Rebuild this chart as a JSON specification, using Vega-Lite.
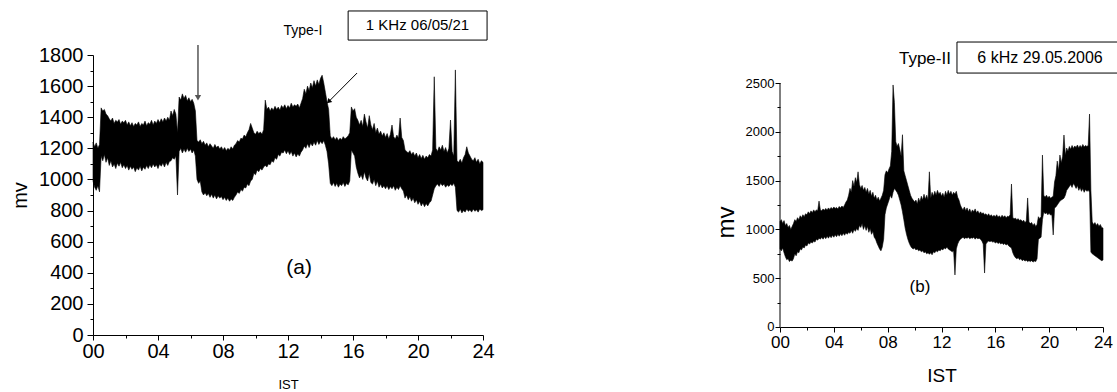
{
"$schema": "https://vega.github.io/schema/vega-lite/v6.json",
"padding": {"left": 10, "top": 10, "right": 0, "bottom": 0},
"spacing": 219,
"config": {
  "view": {"stroke": null},
  "font": "Liberation Sans",
  "text": {"font": "Liberation Sans", "color": "black"},
  "axis": {"domainColor": "black", "tickColor": "black", "labelColor": "black", "titleColor": "black", "grid": false, "labelFont": "Liberation Sans", "titleFont": "Liberation Sans", "titleFontWeight": "normal", "labelFlush": false, "labelOverlap": false, "labelBound": false, "domainWidth": 1, "tickWidth": 1}
},
"datasets": {
"one": [{}],
"a": [
{"h":0.0,"hi":1240,"lo":990},{"h":0.1,"hi":1210,"lo":950},{"h":0.2,"hi":1235,"lo":930},{"h":0.3,"hi":1200,"lo":960},{"h":0.4,"hi":1225,"lo":920},
{"h":0.5,"hi":1460,"lo":1150},{"h":0.6,"hi":1440,"lo":1120},{"h":0.7,"hi":1450,"lo":1160},{"h":0.8,"hi":1420,"lo":1110},{"h":0.9,"hi":1410,"lo":1140},
{"h":1.0,"hi":1390,"lo":1090},{"h":1.1,"hi":1375,"lo":1120},{"h":1.2,"hi":1395,"lo":1080},{"h":1.3,"hi":1360,"lo":1100},{"h":1.4,"hi":1380,"lo":1070},
{"h":1.5,"hi":1370,"lo":1105},{"h":1.6,"hi":1385,"lo":1085},{"h":1.7,"hi":1355,"lo":1110},{"h":1.8,"hi":1375,"lo":1075},{"h":1.9,"hi":1365,"lo":1095},
{"h":2.0,"hi":1380,"lo":1070},{"h":2.1,"hi":1350,"lo":1090},{"h":2.2,"hi":1370,"lo":1060},{"h":2.3,"hi":1345,"lo":1085},{"h":2.4,"hi":1365,"lo":1065},
{"h":2.5,"hi":1340,"lo":1080},{"h":2.6,"hi":1360,"lo":1050},{"h":2.7,"hi":1350,"lo":1075},{"h":2.8,"hi":1370,"lo":1060},{"h":2.9,"hi":1340,"lo":1085},
{"h":3.0,"hi":1360,"lo":1055},{"h":3.1,"hi":1350,"lo":1080},{"h":3.2,"hi":1375,"lo":1065},{"h":3.3,"hi":1345,"lo":1090},{"h":3.4,"hi":1365,"lo":1070},
{"h":3.5,"hi":1355,"lo":1095},{"h":3.6,"hi":1380,"lo":1075},{"h":3.7,"hi":1350,"lo":1100},{"h":3.8,"hi":1375,"lo":1080},{"h":3.9,"hi":1360,"lo":1095},
{"h":4.0,"hi":1385,"lo":1070},{"h":4.1,"hi":1365,"lo":1100},{"h":4.2,"hi":1390,"lo":1085},{"h":4.3,"hi":1370,"lo":1105},{"h":4.4,"hi":1395,"lo":1080},
{"h":4.5,"hi":1375,"lo":1110},{"h":4.6,"hi":1400,"lo":1090},{"h":4.7,"hi":1380,"lo":1115},{"h":4.8,"hi":1440,"lo":1120},{"h":4.9,"hi":1410,"lo":1140},
{"h":5.0,"hi":1450,"lo":1130},{"h":5.1,"hi":1420,"lo":1150},{"h":5.2,"hi":1300,"lo":900},{"h":5.3,"hi":1530,"lo":1180},{"h":5.4,"hi":1510,"lo":1200},
{"h":5.5,"hi":1550,"lo":1170},{"h":5.6,"hi":1520,"lo":1195},{"h":5.7,"hi":1540,"lo":1175},{"h":5.8,"hi":1505,"lo":1200},{"h":5.9,"hi":1525,"lo":1180},
{"h":6.0,"hi":1500,"lo":1195},{"h":6.1,"hi":1515,"lo":1170},{"h":6.2,"hi":1490,"lo":1190},{"h":6.3,"hi":1440,"lo":1150},{"h":6.4,"hi":1250,"lo":1000},
{"h":6.5,"hi":1240,"lo":975},{"h":6.6,"hi":1255,"lo":990},{"h":6.7,"hi":1230,"lo":920},{"h":6.8,"hi":1245,"lo":900},{"h":6.9,"hi":1220,"lo":915},
{"h":7.0,"hi":1235,"lo":895},{"h":7.1,"hi":1210,"lo":910},{"h":7.2,"hi":1230,"lo":885},{"h":7.3,"hi":1215,"lo":905},{"h":7.4,"hi":1200,"lo":880},
{"h":7.5,"hi":1225,"lo":900},{"h":7.6,"hi":1205,"lo":875},{"h":7.7,"hi":1215,"lo":895},{"h":7.8,"hi":1195,"lo":880},{"h":7.9,"hi":1210,"lo":890},
{"h":8.0,"hi":1190,"lo":870},{"h":8.1,"hi":1205,"lo":885},{"h":8.2,"hi":1185,"lo":865},{"h":8.3,"hi":1200,"lo":880},{"h":8.4,"hi":1190,"lo":860},
{"h":8.5,"hi":1210,"lo":875},{"h":8.6,"hi":1195,"lo":865},{"h":8.7,"hi":1220,"lo":885},{"h":8.8,"hi":1230,"lo":900},{"h":8.9,"hi":1250,"lo":920},
{"h":9.0,"hi":1240,"lo":910},{"h":9.1,"hi":1265,"lo":935},{"h":9.2,"hi":1260,"lo":925},{"h":9.3,"hi":1285,"lo":950},{"h":9.4,"hi":1275,"lo":945},
{"h":9.5,"hi":1300,"lo":970},{"h":9.6,"hi":1320,"lo":960},{"h":9.7,"hi":1360,"lo":990},{"h":9.8,"hi":1330,"lo":1000},{"h":9.9,"hi":1300,"lo":1040},
{"h":10.0,"hi":1290,"lo":1030},{"h":10.1,"hi":1310,"lo":1060},{"h":10.2,"hi":1295,"lo":1050},{"h":10.3,"hi":1305,"lo":1070},{"h":10.4,"hi":1290,"lo":1060},
{"h":10.5,"hi":1320,"lo":1080},{"h":10.6,"hi":1510,"lo":1090},{"h":10.7,"hi":1450,"lo":1080},{"h":10.8,"hi":1465,"lo":1100},{"h":10.9,"hi":1440,"lo":1095},
{"h":11.0,"hi":1460,"lo":1120},{"h":11.1,"hi":1445,"lo":1110},{"h":11.2,"hi":1470,"lo":1140},{"h":11.3,"hi":1450,"lo":1130},{"h":11.4,"hi":1465,"lo":1160},
{"h":11.5,"hi":1445,"lo":1150},{"h":11.6,"hi":1475,"lo":1175},{"h":11.7,"hi":1460,"lo":1170},{"h":11.8,"hi":1480,"lo":1190},{"h":11.9,"hi":1455,"lo":1165},
{"h":12.0,"hi":1475,"lo":1185},{"h":12.1,"hi":1460,"lo":1160},{"h":12.2,"hi":1490,"lo":1180},{"h":12.3,"hi":1465,"lo":1150},{"h":12.4,"hi":1480,"lo":1170},
{"h":12.5,"hi":1470,"lo":1145},{"h":12.6,"hi":1485,"lo":1165},{"h":12.7,"hi":1460,"lo":1150},{"h":12.8,"hi":1490,"lo":1175},{"h":12.9,"hi":1520,"lo":1190},
{"h":13.0,"hi":1580,"lo":1215},{"h":13.1,"hi":1550,"lo":1200},{"h":13.2,"hi":1600,"lo":1230},{"h":13.3,"hi":1570,"lo":1205},{"h":13.4,"hi":1620,"lo":1235},
{"h":13.5,"hi":1590,"lo":1215},{"h":13.6,"hi":1635,"lo":1240},{"h":13.7,"hi":1600,"lo":1220},{"h":13.8,"hi":1640,"lo":1250},{"h":13.9,"hi":1610,"lo":1225},
{"h":14.0,"hi":1650,"lo":1245},{"h":14.1,"hi":1670,"lo":1230},{"h":14.2,"hi":1620,"lo":1250},{"h":14.3,"hi":1560,"lo":1220},{"h":14.4,"hi":1500,"lo":1180},
{"h":14.5,"hi":1450,"lo":1100},{"h":14.6,"hi":1280,"lo":975},{"h":14.7,"hi":1260,"lo":960},{"h":14.8,"hi":1275,"lo":980},{"h":14.9,"hi":1255,"lo":955},
{"h":15.0,"hi":1270,"lo":975},{"h":15.1,"hi":1250,"lo":950},{"h":15.2,"hi":1265,"lo":970},{"h":15.3,"hi":1255,"lo":960},{"h":15.4,"hi":1275,"lo":980},
{"h":15.5,"hi":1260,"lo":955},{"h":15.6,"hi":1270,"lo":975},{"h":15.7,"hi":1280,"lo":965},{"h":15.8,"hi":1300,"lo":990},{"h":15.9,"hi":1466,"lo":1190},
{"h":16.0,"hi":1440,"lo":1170},{"h":16.1,"hi":1455,"lo":1150},{"h":16.2,"hi":1400,"lo":1080},{"h":16.3,"hi":1380,"lo":1040},{"h":16.4,"hi":1350,"lo":1010},
{"h":16.5,"hi":1380,"lo":1030},{"h":16.6,"hi":1340,"lo":1000},{"h":16.7,"hi":1420,"lo":1050},{"h":16.8,"hi":1370,"lo":1010},{"h":16.9,"hi":1330,"lo":990},
{"h":17.0,"hi":1410,"lo":1040},{"h":17.1,"hi":1350,"lo":980},{"h":17.2,"hi":1320,"lo":970},{"h":17.3,"hi":1360,"lo":1000},{"h":17.4,"hi":1300,"lo":960},
{"h":17.5,"hi":1330,"lo":990},{"h":17.6,"hi":1290,"lo":950},{"h":17.7,"hi":1310,"lo":970},{"h":17.8,"hi":1280,"lo":945},{"h":17.9,"hi":1300,"lo":960},
{"h":18.0,"hi":1270,"lo":940},{"h":18.1,"hi":1295,"lo":960},{"h":18.2,"hi":1260,"lo":935},{"h":18.3,"hi":1290,"lo":955},{"h":18.4,"hi":1350,"lo":940},
{"h":18.5,"hi":1275,"lo":960},{"h":18.6,"hi":1260,"lo":930},{"h":18.7,"hi":1285,"lo":950},{"h":18.8,"hi":1265,"lo":935},{"h":18.9,"hi":1395,"lo":960},
{"h":19.0,"hi":1270,"lo":940},{"h":19.1,"hi":1250,"lo":925},{"h":19.2,"hi":1190,"lo":880},{"h":19.3,"hi":1180,"lo":900},{"h":19.4,"hi":1170,"lo":870},
{"h":19.5,"hi":1185,"lo":890},{"h":19.6,"hi":1160,"lo":860},{"h":19.7,"hi":1175,"lo":880},{"h":19.8,"hi":1150,"lo":850},{"h":19.9,"hi":1170,"lo":870},
{"h":20.0,"hi":1140,"lo":840},{"h":20.1,"hi":1160,"lo":860},{"h":20.2,"hi":1135,"lo":830},{"h":20.3,"hi":1155,"lo":850},{"h":20.4,"hi":1130,"lo":825},
{"h":20.5,"hi":1150,"lo":845},{"h":20.6,"hi":1140,"lo":830},{"h":20.7,"hi":1160,"lo":850},{"h":20.8,"hi":1150,"lo":860},{"h":20.9,"hi":1190,"lo":900},
{"h":21.0,"hi":1660,"lo":940},{"h":21.1,"hi":1200,"lo":960},{"h":21.2,"hi":1180,"lo":970},{"h":21.3,"hi":1210,"lo":955},{"h":21.4,"hi":1190,"lo":975},
{"h":21.5,"hi":1220,"lo":960},{"h":21.6,"hi":1180,"lo":970},{"h":21.7,"hi":1205,"lo":950},{"h":21.8,"hi":1170,"lo":965},{"h":21.9,"hi":1200,"lo":955},
{"h":22.0,"hi":1382,"lo":970},{"h":22.1,"hi":1180,"lo":960},{"h":22.2,"hi":1150,"lo":975},{"h":22.3,"hi":1704,"lo":950},{"h":22.4,"hi":1120,"lo":800},
{"h":22.5,"hi":1110,"lo":790},{"h":22.6,"hi":1130,"lo":810},{"h":22.7,"hi":1105,"lo":785},{"h":22.8,"hi":1140,"lo":800},{"h":22.9,"hi":1160,"lo":790},
{"h":23.0,"hi":1210,"lo":810},{"h":23.1,"hi":1170,"lo":795},{"h":23.2,"hi":1150,"lo":805},{"h":23.3,"hi":1130,"lo":790},{"h":23.4,"hi":1120,"lo":810},
{"h":23.5,"hi":1140,"lo":795},{"h":23.6,"hi":1110,"lo":805},{"h":23.7,"hi":1130,"lo":790},{"h":23.8,"hi":1100,"lo":810},{"h":23.9,"hi":1120,"lo":800},
{"h":24.0,"hi":1110,"lo":805}
],
"b": [
{"h":0.0,"hi":1080,"lo":800},{"h":0.1,"hi":1100,"lo":780},{"h":0.2,"hi":1060,"lo":810},{"h":0.3,"hi":1090,"lo":760},{"h":0.4,"hi":1040,"lo":720},
{"h":0.5,"hi":1060,"lo":690},{"h":0.6,"hi":1020,"lo":700},{"h":0.7,"hi":1040,"lo":670},{"h":0.8,"hi":1000,"lo":685},{"h":0.9,"hi":1030,"lo":675},
{"h":1.0,"hi":1060,"lo":700},{"h":1.1,"hi":1100,"lo":750},{"h":1.2,"hi":1080,"lo":730},{"h":1.3,"hi":1120,"lo":770},{"h":1.4,"hi":1100,"lo":760},
{"h":1.5,"hi":1140,"lo":800},{"h":1.6,"hi":1120,"lo":790},{"h":1.7,"hi":1150,"lo":820},{"h":1.8,"hi":1130,"lo":810},{"h":1.9,"hi":1160,"lo":840},
{"h":2.0,"hi":1150,"lo":830},{"h":2.1,"hi":1180,"lo":860},{"h":2.2,"hi":1160,"lo":850},{"h":2.3,"hi":1190,"lo":870},{"h":2.4,"hi":1170,"lo":860},
{"h":2.5,"hi":1200,"lo":880},{"h":2.6,"hi":1180,"lo":870},{"h":2.7,"hi":1200,"lo":900},{"h":2.8,"hi":1190,"lo":890},{"h":2.9,"hi":1290,"lo":910},
{"h":3.0,"hi":1200,"lo":900},{"h":3.1,"hi":1190,"lo":920},{"h":3.2,"hi":1210,"lo":900},{"h":3.3,"hi":1195,"lo":925},{"h":3.4,"hi":1215,"lo":905},
{"h":3.5,"hi":1200,"lo":930},{"h":3.6,"hi":1220,"lo":910},{"h":3.7,"hi":1205,"lo":935},{"h":3.8,"hi":1225,"lo":915},{"h":3.9,"hi":1210,"lo":940},
{"h":4.0,"hi":1230,"lo":920},{"h":4.1,"hi":1215,"lo":945},{"h":4.2,"hi":1225,"lo":925},{"h":4.3,"hi":1210,"lo":950},{"h":4.4,"hi":1235,"lo":930},
{"h":4.5,"hi":1220,"lo":955},{"h":4.6,"hi":1240,"lo":935},{"h":4.7,"hi":1225,"lo":960},{"h":4.8,"hi":1250,"lo":940},{"h":4.9,"hi":1280,"lo":965},
{"h":5.0,"hi":1300,"lo":950},{"h":5.1,"hi":1350,"lo":970},{"h":5.2,"hi":1420,"lo":960},{"h":5.3,"hi":1380,"lo":990},{"h":5.4,"hi":1500,"lo":960},
{"h":5.5,"hi":1440,"lo":1000},{"h":5.6,"hi":1530,"lo":980},{"h":5.7,"hi":1480,"lo":1010},{"h":5.8,"hi":1590,"lo":990},{"h":5.9,"hi":1460,"lo":1040},
{"h":6.0,"hi":1420,"lo":1020},{"h":6.1,"hi":1450,"lo":1060},{"h":6.2,"hi":1400,"lo":1000},{"h":6.3,"hi":1430,"lo":1040},{"h":6.4,"hi":1380,"lo":990},
{"h":6.5,"hi":1420,"lo":1030},{"h":6.6,"hi":1360,"lo":970},{"h":6.7,"hi":1400,"lo":1010},{"h":6.8,"hi":1340,"lo":950},{"h":6.9,"hi":1380,"lo":980},
{"h":7.0,"hi":1320,"lo":920},{"h":7.1,"hi":1350,"lo":900},{"h":7.2,"hi":1300,"lo":860},{"h":7.3,"hi":1330,"lo":830},{"h":7.4,"hi":1290,"lo":800},
{"h":7.5,"hi":1320,"lo":780},{"h":7.6,"hi":1350,"lo":820},{"h":7.7,"hi":1400,"lo":900},{"h":7.8,"hi":1560,"lo":1150},{"h":7.9,"hi":1600,"lo":1220},
{"h":8.0,"hi":1580,"lo":1260},{"h":8.1,"hi":1620,"lo":1300},{"h":8.2,"hi":1650,"lo":1350},{"h":8.3,"hi":1800,"lo":1320},{"h":8.4,"hi":2480,"lo":1380},
{"h":8.5,"hi":2300,"lo":1420},{"h":8.6,"hi":1900,"lo":1400},{"h":8.7,"hi":1850,"lo":1380},{"h":8.8,"hi":1880,"lo":1350},{"h":8.9,"hi":1820,"lo":1300},
{"h":9.0,"hi":1750,"lo":1250},{"h":9.1,"hi":1970,"lo":1180},{"h":9.2,"hi":1600,"lo":1100},{"h":9.3,"hi":1550,"lo":1014},{"h":9.4,"hi":1500,"lo":950},
{"h":9.5,"hi":1450,"lo":900},{"h":9.6,"hi":1400,"lo":860},{"h":9.7,"hi":1350,"lo":830},{"h":9.8,"hi":1320,"lo":810},{"h":9.9,"hi":1300,"lo":800},
{"h":10.0,"hi":1280,"lo":810},{"h":10.1,"hi":1300,"lo":790},{"h":10.2,"hi":1260,"lo":800},{"h":10.3,"hi":1320,"lo":780},{"h":10.4,"hi":1280,"lo":790},
{"h":10.5,"hi":1340,"lo":770},{"h":10.6,"hi":1300,"lo":780},{"h":10.7,"hi":1360,"lo":760},{"h":10.8,"hi":1310,"lo":770},{"h":10.9,"hi":1350,"lo":750},
{"h":11.0,"hi":1300,"lo":760},{"h":11.1,"hi":1590,"lo":745},{"h":11.2,"hi":1320,"lo":760},{"h":11.3,"hi":1380,"lo":740},{"h":11.4,"hi":1340,"lo":770},
{"h":11.5,"hi":1390,"lo":760},{"h":11.6,"hi":1350,"lo":780},{"h":11.7,"hi":1400,"lo":770},{"h":11.8,"hi":1360,"lo":790},{"h":11.9,"hi":1380,"lo":780},
{"h":12.0,"hi":1340,"lo":800},{"h":12.1,"hi":1370,"lo":790},{"h":12.2,"hi":1330,"lo":810},{"h":12.3,"hi":1390,"lo":800},{"h":12.4,"hi":1350,"lo":820},
{"h":12.5,"hi":1400,"lo":800},{"h":12.6,"hi":1360,"lo":790},{"h":12.7,"hi":1390,"lo":780},{"h":12.8,"hi":1350,"lo":770},{"h":12.9,"hi":1380,"lo":780},
{"h":13.0,"hi":1360,"lo":533},{"h":13.1,"hi":1390,"lo":800},{"h":13.2,"hi":1330,"lo":850},{"h":13.3,"hi":1300,"lo":880},{"h":13.4,"hi":1250,"lo":900},
{"h":13.5,"hi":1220,"lo":910},{"h":13.6,"hi":1200,"lo":920},{"h":13.7,"hi":1230,"lo":905},{"h":13.8,"hi":1190,"lo":915},{"h":13.9,"hi":1220,"lo":910},
{"h":14.0,"hi":1180,"lo":920},{"h":14.1,"hi":1210,"lo":905},{"h":14.2,"hi":1170,"lo":915},{"h":14.3,"hi":1200,"lo":910},{"h":14.4,"hi":1180,"lo":920},
{"h":14.5,"hi":1210,"lo":900},{"h":14.6,"hi":1170,"lo":915},{"h":14.7,"hi":1190,"lo":905},{"h":14.8,"hi":1160,"lo":910},{"h":14.9,"hi":1180,"lo":900},
{"h":15.0,"hi":1160,"lo":880},{"h":15.1,"hi":1170,"lo":850},{"h":15.2,"hi":1150,"lo":553},{"h":15.3,"hi":1160,"lo":850},{"h":15.4,"hi":1140,"lo":870},
{"h":15.5,"hi":1160,"lo":880},{"h":15.6,"hi":1135,"lo":875},{"h":15.7,"hi":1150,"lo":880},{"h":15.8,"hi":1130,"lo":870},{"h":15.9,"hi":1145,"lo":875},
{"h":16.0,"hi":1130,"lo":860},{"h":16.1,"hi":1150,"lo":870},{"h":16.2,"hi":1125,"lo":855},{"h":16.3,"hi":1140,"lo":865},{"h":16.4,"hi":1120,"lo":850},
{"h":16.5,"hi":1145,"lo":860},{"h":16.6,"hi":1125,"lo":845},{"h":16.7,"hi":1140,"lo":855},{"h":16.8,"hi":1120,"lo":840},{"h":16.9,"hi":1135,"lo":850},
{"h":17.0,"hi":1130,"lo":830},{"h":17.1,"hi":1150,"lo":820},{"h":17.2,"hi":1465,"lo":810},{"h":17.3,"hi":1120,"lo":760},{"h":17.4,"hi":1110,"lo":730},
{"h":17.5,"hi":1115,"lo":710},{"h":17.6,"hi":1100,"lo":700},{"h":17.7,"hi":1110,"lo":710},{"h":17.8,"hi":1090,"lo":690},{"h":17.9,"hi":1100,"lo":700},
{"h":18.0,"hi":1080,"lo":680},{"h":18.1,"hi":1095,"lo":690},{"h":18.2,"hi":1070,"lo":675},{"h":18.3,"hi":1085,"lo":685},{"h":18.4,"hi":1322,"lo":670},
{"h":18.5,"hi":1075,"lo":680},{"h":18.6,"hi":1060,"lo":670},{"h":18.7,"hi":1070,"lo":680},{"h":18.8,"hi":1040,"lo":665},{"h":18.9,"hi":1060,"lo":675},
{"h":19.0,"hi":1030,"lo":670},{"h":19.1,"hi":1050,"lo":700},{"h":19.2,"hi":1130,"lo":900},{"h":19.3,"hi":1110,"lo":910},{"h":19.4,"hi":1130,"lo":920},
{"h":19.5,"hi":1762,"lo":1100},{"h":19.6,"hi":1350,"lo":1178},{"h":19.7,"hi":1330,"lo":1160},{"h":19.8,"hi":1350,"lo":1170},{"h":19.9,"hi":1325,"lo":1150},
{"h":20.0,"hi":1340,"lo":1165},{"h":20.1,"hi":1320,"lo":1147},{"h":20.2,"hi":1330,"lo":1150},{"h":20.3,"hi":1340,"lo":943},{"h":20.4,"hi":1485,"lo":1220},
{"h":20.5,"hi":1550,"lo":1230},{"h":20.6,"hi":1700,"lo":1250},{"h":20.7,"hi":1600,"lo":1270},{"h":20.8,"hi":1762,"lo":1290},{"h":20.9,"hi":1680,"lo":1300},
{"h":21.0,"hi":1750,"lo":1310},{"h":21.1,"hi":1967,"lo":1320},{"h":21.2,"hi":1760,"lo":1350},{"h":21.3,"hi":1834,"lo":1400},{"h":21.4,"hi":1800,"lo":1420},
{"h":21.5,"hi":1850,"lo":1440},{"h":21.6,"hi":1820,"lo":1460},{"h":21.7,"hi":1860,"lo":1430},{"h":21.8,"hi":1830,"lo":1470},{"h":21.9,"hi":1855,"lo":1450},
{"h":22.0,"hi":1840,"lo":1420},{"h":22.1,"hi":1865,"lo":1450},{"h":22.2,"hi":1835,"lo":1400},{"h":22.3,"hi":1860,"lo":1430},{"h":22.4,"hi":1840,"lo":1390},
{"h":22.5,"hi":1870,"lo":1420},{"h":22.6,"hi":1845,"lo":1380},{"h":22.7,"hi":1860,"lo":1410},{"h":22.8,"hi":1850,"lo":1390},{"h":22.9,"hi":1860,"lo":1400},
{"h":23.0,"hi":2182,"lo":1383},{"h":23.1,"hi":1400,"lo":768},{"h":23.2,"hi":1076,"lo":750},{"h":23.3,"hi":1050,"lo":740},{"h":23.4,"hi":1070,"lo":730},
{"h":23.5,"hi":1040,"lo":720},{"h":23.6,"hi":1060,"lo":710},{"h":23.7,"hi":1030,"lo":700},{"h":23.8,"hi":1050,"lo":690},{"h":23.9,"hi":1020,"lo":680},
{"h":24.0,"hi":1014,"lo":686}
]
},
"hconcat": [
{
  "width": 390, "height": 280,
  "resolve": {"axis": {"x": "independent", "y": "independent"}},
  "layer": [
    {
      "data": {"name": "a"},
      "mark": {"type": "area", "color": "black", "stroke": "black", "strokeWidth": 0.6},
      "encoding": {
        "x": {"field": "h", "type": "quantitative", "scale": {"domain": [0, 24], "nice": false, "zero": false},
          "axis": {"orient": "bottom", "values": [0,2,4,6,8,10,12,14,16,18,20,22,24], "labelExpr": "datum.value % 4 === 0 ? (datum.value < 10 ? '0' : '') + datum.value : ''", "tickSize": {"condition": {"test": "datum.value % 4 !== 0", "value": 3}, "value": 5}, "labelFontSize": {"condition": {"test": "datum.value % 4 !== 0", "value": 1}, "value": 20}, "labelOverlap": false, "labelFlush": false, "labelPadding": 1, "title": "IST", "titleFontSize": 13, "titlePadding": 17}},
        "y": {"field": "hi", "type": "quantitative", "scale": {"domain": [0, 1800], "nice": false},
          "axis": {"orient": "left", "values": [0,100,200,300,400,500,600,700,800,900,1000,1100,1200,1300,1400,1500,1600,1700,1800], "labelExpr": "datum.value % 200 === 0 ? '' + datum.value : ''", "tickSize": {"condition": {"test": "datum.value % 200 !== 0", "value": 3}, "value": 6}, "labelFontSize": {"condition": {"test": "datum.value % 200 !== 0", "value": 1}, "value": 20}, "labelOverlap": false, "labelFlush": false, "labelPadding": 4, "title": "mv", "titleFontSize": 20, "titlePadding": 8}},
        "y2": {"field": "lo"}
      }
    },
    {
      "data": {"name": "one"},
      "mark": {"type": "rule", "color": "#555555", "strokeWidth": 1.5},
      "encoding": {"x": {"datum": 6.46, "axis": null}, "y": {"datum": 1864, "axis": null}, "y2": {"datum": 1540}}
    },
    {
      "data": {"name": "one"},
      "mark": {"type": "point", "shape": "triangle-down", "filled": true, "color": "#555555", "size": 40, "opacity": 1},
      "encoding": {"x": {"datum": 6.46, "axis": null}, "y": {"datum": 1525, "axis": null}}
    },
    {
      "data": {"name": "one"},
      "mark": {"type": "rule", "color": "black", "strokeWidth": 1},
      "encoding": {"x": {"datum": 16.25, "axis": null}, "y": {"datum": 1684, "axis": null}, "x2": {"datum": 14.55}, "y2": {"datum": 1505}}
    },
    {
      "data": {"name": "one"},
      "mark": {"type": "point", "shape": "triangle-up", "filled": true, "color": "black", "size": 30, "angle": 225, "opacity": 1},
      "encoding": {"x": {"datum": 14.5, "axis": null}, "y": {"datum": 1500, "axis": null}}
    },
    {
      "data": {"name": "one"},
      "mark": {"type": "rect", "fill": "white", "stroke": "black", "strokeWidth": 1},
      "encoding": {"x": {"datum": 15.7, "axis": null}, "x2": {"datum": 24.25}, "y": {"datum": 2083, "axis": null}, "y2": {"datum": 1896}}
    },
    {
      "data": {"name": "one"},
      "mark": {"type": "text", "fontSize": 15, "align": "center", "baseline": "middle"},
      "encoding": {"x": {"datum": 19.97, "axis": null}, "y": {"datum": 1993, "axis": null}, "text": {"value": "1 KHz 06/05/21"}}
    },
    {
      "data": {"name": "one"},
      "mark": {"type": "text", "fontSize": 14, "align": "center", "baseline": "middle"},
      "encoding": {"x": {"datum": 12.92, "axis": null}, "y": {"datum": 1954, "axis": null}, "text": {"value": "Type-I"}}
    },
    {
      "data": {"name": "one"},
      "mark": {"type": "text", "fontSize": 21, "align": "center", "baseline": "middle"},
      "encoding": {"x": {"datum": 12.68, "axis": null}, "y": {"datum": 431, "axis": null}, "text": {"value": "(a)"}}
    }
  ]
},
{
  "width": 323, "height": 280,
  "resolve": {"axis": {"x": "independent", "y": "independent"}},
  "layer": [
    {
      "data": {"name": "b"},
      "mark": {"type": "area", "color": "black", "stroke": "black", "strokeWidth": 0.6},
      "encoding": {
        "x": {"field": "h", "type": "quantitative", "scale": {"domain": [0, 24], "nice": false, "zero": false},
          "axis": {"orient": "bottom", "values": [0,2,4,6,8,10,12,14,16,18,20,22,24], "labelExpr": "datum.value % 4 === 0 ? (datum.value < 10 ? '0' : '') + datum.value : ''", "tickSize": {"condition": {"test": "datum.value % 4 !== 0", "value": 3}, "value": 5}, "labelFontSize": {"condition": {"test": "datum.value % 4 !== 0", "value": 1}, "value": 17}, "labelOverlap": false, "labelFlush": false, "offset": -8, "labelPadding": 2, "title": "IST", "titleFontSize": 19, "titlePadding": 16}},
        "y": {"field": "hi", "type": "quantitative", "scale": {"domain": [-82, 2787], "nice": false, "zero": false},
          "axis": {"orient": "left", "values": [0,250,500,750,1000,1250,1500,1750,2000,2250,2500], "domain": false, "labelExpr": "datum.value % 500 === 0 ? '' + datum.value : ''", "tickSize": {"condition": {"test": "datum.value % 500 !== 0", "value": 3}, "value": 5}, "labelFontSize": {"condition": {"test": "datum.value % 500 !== 0", "value": 1}, "value": 13}, "labelOverlap": false, "labelFlush": false, "labelPadding": 1, "title": "mv", "titleFontSize": 24, "titlePadding": 7, "titleY": 167}},
        "y2": {"field": "lo"}
      }
    },
    {
      "data": {"name": "one"},
      "mark": {"type": "rule", "color": "black", "strokeWidth": 1},
      "encoding": {"x": {"datum": 0, "axis": null}, "y": {"datum": 0, "axis": null}, "y2": {"datum": 2500}}
    },
    {
      "data": {"name": "one"},
      "mark": {"type": "rect", "fill": "white", "stroke": "black", "strokeWidth": 1},
      "encoding": {"x": {"datum": 13.15, "axis": null}, "x2": {"datum": 25.3}, "y": {"datum": 2920, "axis": null}, "y2": {"datum": 2602}}
    },
    {
      "data": {"name": "one"},
      "mark": {"type": "text", "fontSize": 16, "align": "center", "baseline": "middle"},
      "encoding": {"x": {"datum": 19.32, "axis": null}, "y": {"datum": 2756, "axis": null}, "text": {"value": "6 kHz 29.05.2006"}}
    },
    {
      "data": {"name": "one"},
      "mark": {"type": "text", "fontSize": 17, "align": "center", "baseline": "middle"},
      "encoding": {"x": {"datum": 10.77, "axis": null}, "y": {"datum": 2746, "axis": null}, "text": {"value": "Type-II"}}
    },
    {
      "data": {"name": "one"},
      "mark": {"type": "text", "fontSize": 17, "align": "center", "baseline": "middle"},
      "encoding": {"x": {"datum": 10.4, "axis": null}, "y": {"datum": 410, "axis": null}, "text": {"value": "(b)"}}
    }
  ]
}
]
}
